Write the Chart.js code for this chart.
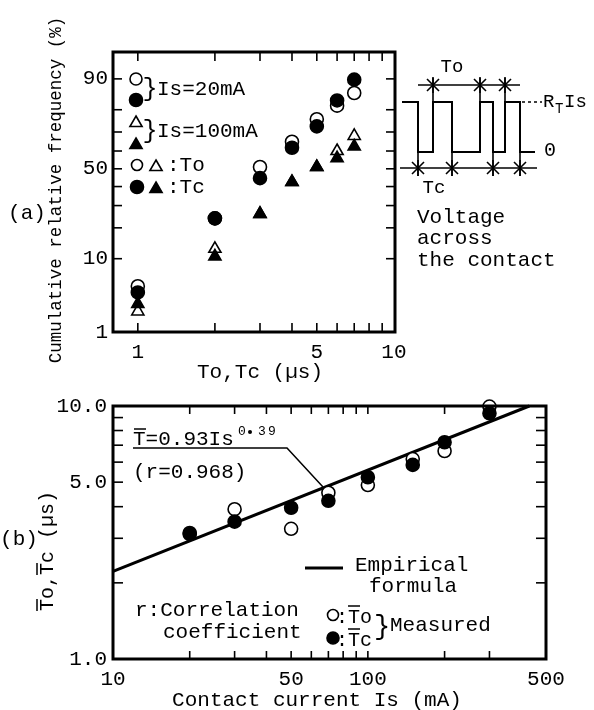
<!DOCTYPE html>
<html><head><meta charset="utf-8">
<script src="https://cdn.jsdelivr.net/npm/chart.js@4.4.1/dist/chart.umd.min.js"></script>
<style>
html,body{margin:0;padding:0;background:#fff;width:594px;height:710px;overflow:hidden}
#ca{position:absolute;left:0;top:0}
#cb{position:absolute;left:0;top:385px}
</style></head><body>
<canvas id="ca" width="594" height="385"></canvas>
<canvas id="cb" width="594" height="325"></canvas>
<script>
// ---------- (a) cumulative relative frequency ----------
const timeUs = [1, 2, 3, 4, 5, 6, 7];
const to20mA = [4.7, 24, 51, 65, 76, 81.6, 86];
const tc20mA = [3.9, 24, 44.7, 61.8, 72.7, 83.5, 89.8];
const to100mA = [2.1, 12.7, 26, 42.5, 51, 60, 68];
const tc100mA = [2.7, 10.6, 26, 42.5, 51, 56, 62.5];
const freqTickLabels = [1, 10, 50, 90];
const freqMinorTicks = [10, 20, 30, 40, 50, 60, 70, 80, 90];
const timeTickLabels = [1, 5, 10];
const timeMinorTicks = [1, 2, 3, 4, 5, 6, 7, 8, 9];
// ---------- (b) mean times vs contact current ----------
const currentMA = [20, 30, 50, 70, 100, 150, 200, 300];
const toMean = [3.15, 3.91, 3.27, 4.54, 4.87, 6.17, 6.64, 9.95];
const tcMean = [3.12, 3.49, 3.96, 4.22, 5.23, 5.85, 7.19, 9.36];
const formulaIs = [10, 430];
const formulaT = [2.22, 10.0];
const currentTickLabels = [10, 50, 100, 500];
const currentMinorTicks = [20, 30, 40, 50, 60, 70, 80, 90, 100, 200, 300];
const meanTickLabels = [1, 5, 10];
const meanMinorTicks = [2, 3, 4, 5, 6, 7, 8, 9];

const FONT = '"Liberation Mono", "Courier New", monospace';
Chart.defaults.font.family = FONT;
Chart.defaults.color = '#000';

// inverse normal CDF (probability-paper axis)
function probit(p){
  const a=[-3.969683028665376e+01,2.209460984245205e+02,-2.759285104469687e+02,1.383577518672690e+02,-3.066479806614716e+01,2.506628277459239e+00];
  const b=[-5.447609879822406e+01,1.615858368580409e+02,-1.556989798598866e+02,6.680131188771972e+01,-1.328068155288572e+01];
  const c=[-7.784894002430293e-03,-3.223964580411365e-01,-2.400758277161838e+00,-2.549732539343734e+00,4.374664141464968e+00,2.938163982698783e+00];
  const d=[7.784695709041462e-03,3.224671290700398e-01,2.445134137142996e+00,3.754408661907416e+00];
  const pl=0.02425, ph=1-pl; let q,r;
  if(p<pl){q=Math.sqrt(-2*Math.log(p));return (((((c[0]*q+c[1])*q+c[2])*q+c[3])*q+c[4])*q+c[5])/((((d[0]*q+d[1])*q+d[2])*q+d[3])*q+1);}
  if(p<=ph){q=p-0.5;r=q*q;return (((((a[0]*r+a[1])*r+a[2])*r+a[3])*r+a[4])*r+a[5])*q/(((((b[0]*r+b[1])*r+b[2])*r+b[3])*r+b[4])*r+1);}
  q=Math.sqrt(-2*Math.log(1-p));return -(((((c[0]*q+c[1])*q+c[2])*q+c[3])*q+c[4])*q+c[5])/((((d[0]*q+d[1])*q+d[2])*q+d[3])*q+1);
}
class ProbitScale extends Chart.LinearScale {
  buildTicks(){ return (this.options.ticks.values || []).map(v => ({value: v})); }
  configure(){ super.configure(); this._z0 = probit(this.min/100); this._z1 = probit(this.max/100); }
  getPixelForValue(v){ return this.getPixelForDecimal((probit(v/100) - this._z0)/(this._z1 - this._z0)); }
  getValueForPixel(px){ return this.min; }
}
ProbitScale.id = 'probit';
ProbitScale.defaults = {ticks: {callback: v => String(v)}};
Chart.register(ProbitScale);

function txt(ctx, s, x, y, size, align, base){
  ctx.font = size + 'px ' + FONT; ctx.fillStyle = '#000';
  ctx.textAlign = align || 'left'; ctx.textBaseline = base || 'middle';
  ctx.fillText(s, x, y);
}
function circ(ctx, x, y, r, filled){
  ctx.beginPath(); ctx.arc(x, y, r, 0, Math.PI*2);
  ctx.fillStyle = filled ? '#000' : '#fff'; ctx.fill();
  ctx.lineWidth = 1.6; ctx.strokeStyle = '#000'; ctx.stroke();
}
function tri(ctx, x, y, r, filled){
  ctx.beginPath();
  for (let k=0;k<3;k++){ const a = k*2*Math.PI/3; const px = x + Math.sin(a)*r, py = y - Math.cos(a)*r; k?ctx.lineTo(px,py):ctx.moveTo(px,py); }
  ctx.closePath();
  ctx.fillStyle = filled ? '#000' : '#fff'; ctx.fill();
  ctx.lineWidth = 1.6; ctx.strokeStyle = '#000'; ctx.stroke();
}
function line(ctx, pts, w, dash){
  ctx.beginPath(); ctx.setLineDash(dash || []);
  pts.forEach((p,i)=> i?ctx.lineTo(p[0],p[1]):ctx.moveTo(p[0],p[1]));
  ctx.lineWidth = w; ctx.strokeStyle = '#000'; ctx.stroke(); ctx.setLineDash([]);
}
function star(ctx, x, y){
  const s = 6;
  line(ctx, [[x-s,y-s],[x+s,y+s]], 1.6);
  line(ctx, [[x-s,y+s],[x+s,y-s]], 1.6);
  line(ctx, [[x,y-s-2],[x,y+s+2]], 1.6);
}
function frameAndTicks(chart, xTicks, yTicks, xLen, yLen){
  const ctx = chart.ctx, a = chart.chartArea, xs = chart.scales.x, ys = chart.scales.y;
  ctx.save();
  xTicks.forEach(v => { const px = xs.getPixelForValue(v);
    line(ctx, [[px,a.bottom],[px,a.bottom-xLen]], 1.6); line(ctx, [[px,a.top],[px,a.top+xLen]], 1.6); });
  yTicks.forEach(v => { const py = ys.getPixelForValue(v);
    line(ctx, [[a.left,py],[a.left+yLen,py]], 1.6); line(ctx, [[a.right,py],[a.right-yLen,py]], 1.6); });
  ctx.lineWidth = 3; ctx.strokeStyle = '#000';
  ctx.strokeRect(a.left, a.top, a.right-a.left, a.bottom-a.top);
  ctx.restore();
}
function rotText(ctx, s, x, y, size){
  ctx.save(); ctx.translate(x, y); ctx.rotate(-Math.PI/2);
  txt(ctx, s, 0, 0, size, 'center', 'middle'); ctx.restore();
}

const pts = (xs, ys) => xs.map((x,i) => ({x, y: ys[i]}));
const ds = (data, style, filled, order, r) => ({
  data, pointStyle: style, pointRadius: r, pointHoverRadius: r, pointBorderWidth: 1.6,
  backgroundColor: filled ? '#000' : '#fff', borderColor: '#000', showLine: false, clip: false, order
});

// ---------------- chart (a) ----------------
const plugA = { id: 'decoA', afterDraw(chart){
  const ctx = chart.ctx;
  frameAndTicks(chart, timeMinorTicks, freqMinorTicks, 9, 9);
  ctx.save();
  // titles
  rotText(ctx, 'Cumulative relative frequency (%)', 56, 190, 17.5);
  txt(ctx, 'To,Tc (µs)', 260, 372, 21, 'center');
  txt(ctx, '(a)', 27, 213, 21, 'center');
  // legend
  circ(ctx, 136, 79, 6, false); circ(ctx, 136, 100, 6.5, true);
  txt(ctx, '}', 150, 89, 25, 'center'); txt(ctx, 'Is=20mA', 157, 89, 21);
  tri(ctx, 136, 123, 7, false); tri(ctx, 136, 145, 7, true);
  txt(ctx, '}', 150, 131, 25, 'center'); txt(ctx, 'Is=100mA', 157, 131, 21);
  circ(ctx, 137, 165, 5.5, false); tri(ctx, 156, 167, 7, false); txt(ctx, ':To', 167, 165, 21);
  circ(ctx, 137, 187, 6.5, true); tri(ctx, 156, 189, 7, true); txt(ctx, ':Tc', 167, 187, 21);
  // inset: voltage across the contact
  const hi = 102, lo = 152;
  line(ctx, [[402,hi],[418,hi],[418,lo],[433,lo],[433,hi],[452,hi],[452,lo],[480,lo],[480,hi],[493,hi],[493,lo],[505,lo],[505,hi],[520,hi],[520,lo],[535,lo]], 2);
  line(ctx, [[418,85],[520,85]], 1.6);
  [433,480,505].forEach(x => { line(ctx, [[x,78],[x,hi]], 1.6); star(ctx, x, 85); });
  line(ctx, [[400,168],[537,168]], 1.6);
  [418,452,493,520].forEach(x => { line(ctx, [[x,lo],[x,176]], 1.6); star(ctx, x, 168); });
  line(ctx, [[522,hi],[542,hi]], 1.5, [3,3]);
  txt(ctx, 'R', 543, hi, 19); txt(ctx, 'T', 555, hi+7, 14); txt(ctx, 'Is', 564, hi, 19);
  txt(ctx, '0', 550, 151, 20, 'center');
  txt(ctx, 'To', 452, 67, 19, 'center');
  txt(ctx, 'Tc', 434, 188, 19, 'center');
  txt(ctx, 'Voltage', 417, 217, 21);
  txt(ctx, 'across', 417, 238, 21);
  txt(ctx, 'the contact', 417, 260, 21);
  ctx.restore();
}};

new Chart(document.getElementById('ca'), {
  type: 'scatter',
  data: { datasets: [
    ds(pts(timeUs, tc20mA), 'circle', true, 0, 6.5),
    ds(pts(timeUs, tc100mA), 'triangle', true, 1, 7),
    ds(pts(timeUs, to20mA), 'circle', false, 2, 6.5),
    ds(pts(timeUs, to100mA), 'triangle', false, 3, 7)
  ]},
  options: {
    responsive: false, animation: false, devicePixelRatio: 1,
    layout: { padding: { left: 0, right: 199, top: 52, bottom: 0 } },
    plugins: { legend: { display: false }, tooltip: { enabled: false } },
    scales: {
      x: { type: 'logarithmic', min: 0.8, max: 10.1,
        grid: { display: false, drawTicks: false }, border: { display: false },
        ticks: { autoSkip: false, maxRotation: 0, padding: 8, font: { size: 21 }, color: '#000', callback: v => String(v) },
        afterBuildTicks: s => { s.ticks = timeTickLabels.map(v => ({value: v})); },
        afterFit: s => { s.height = 385 - 332; } },
      y: { type: 'probit', min: 1, max: 95.2,
        grid: { display: false, drawTicks: false }, border: { display: false },
        ticks: { values: freqTickLabels, autoSkip: false, padding: 5, font: { size: 21 }, color: '#000', callback: v => String(v) },
        afterFit: s => { s.width = 113; } }
    }
  },
  plugins: [plugA]
});

// ---------------- chart (b) ----------------
const plugB = { id: 'decoB', afterDraw(chart){
  const ctx = chart.ctx;
  frameAndTicks(chart, currentMinorTicks, meanMinorTicks, 8, 10);
  ctx.save(); ctx.translate(0, -385);
  // y title with overlines
  ctx.save(); ctx.translate(46, 551); ctx.rotate(-Math.PI/2);
  ctx.font = '20px ' + FONT;
  const yt = 'To,Tc (µs)'; const w = ctx.measureText(yt).width; const cw = ctx.measureText('T').width;
  txt(ctx, yt, -w/2, 7, 20, 'left', 'alphabetic');
  line(ctx, [[-w/2, -9],[-w/2+cw, -9]], 1.5);
  line(ctx, [[-w/2+3*cw, -9],[-w/2+4*cw, -9]], 1.5);
  ctx.restore();
  txt(ctx, '(b)', 19, 539, 21, 'center');
  txt(ctx, 'Contact current Is (mA)', 317, 700, 21, 'center');
  // formula annotation
  txt(ctx, 'T=0.93Is', 133, 445, 21, 'left', 'alphabetic');
  line(ctx, [[134,429],[146,429]], 1.5);
  txt(ctx, '0', 238, 432, 13); ctx.beginPath(); ctx.arc(250, 432, 2, 0, 2*Math.PI); ctx.fillStyle='#000'; ctx.fill();
  txt(ctx, '3', 258, 432, 13); txt(ctx, '9', 268, 432, 13);
  line(ctx, [[133,448],[287,448],[323,487]], 1.5);
  txt(ctx, '(r=0.968)', 133, 472, 21);
  // legend
  line(ctx, [[305,568],[343,568]], 3);
  txt(ctx, 'Empirical', 355, 565, 21);
  txt(ctx, 'formula', 369, 586, 21);
  txt(ctx, 'r:Correlation', 135, 610, 21);
  txt(ctx, 'coefficient', 163, 632, 21);
  circ(ctx, 333, 615, 5.5, false); circ(ctx, 333, 638, 6, true);
  ctx.font = '20px ' + FONT; const cw2 = ctx.measureText('T').width;
  txt(ctx, ':To', 336, 618, 20); line(ctx, [[336+cw2,606],[336+2*cw2,606]], 1.5);
  txt(ctx, ':Tc', 336, 641, 20); line(ctx, [[336+cw2,629],[336+2*cw2,629]], 1.5);
  txt(ctx, '}', 382, 627, 27, 'center');
  txt(ctx, 'Measured', 390, 625, 21);
  ctx.restore();
}};

new Chart(document.getElementById('cb'), {
  type: 'scatter',
  data: { datasets: [
    ds(pts(currentMA, tcMean), 'circle', true, 0, 6.5),
    ds(pts(currentMA, toMean), 'circle', false, 1, 6.5),
    { data: pts(formulaIs, formulaT), showLine: true, borderColor: '#000', borderWidth: 3,
      pointRadius: 0, pointHoverRadius: 0, clip: false, order: 2 }
  ]},
  options: {
    responsive: false, animation: false, devicePixelRatio: 1,
    layout: { padding: { left: 0, right: 48, top: 21, bottom: 0 } },
    plugins: { legend: { display: false }, tooltip: { enabled: false } },
    scales: {
      x: { type: 'logarithmic', min: 10, max: 500,
        grid: { display: false, drawTicks: false }, border: { display: false },
        ticks: { autoSkip: false, maxRotation: 0, padding: 8, font: { size: 21 }, color: '#000', callback: v => String(v) },
        afterBuildTicks: s => { s.ticks = currentTickLabels.map(v => ({value: v})); },
        afterFit: s => { s.height = 325 - 274; } },
      y: { type: 'logarithmic', min: 1, max: 10,
        grid: { display: false, drawTicks: false }, border: { display: false },
        ticks: { autoSkip: false, padding: 6, font: { size: 21 }, color: '#000', callback: v => Number(v).toFixed(1) },
        afterBuildTicks: s => { s.ticks = meanTickLabels.map(v => ({value: v})); },
        afterFit: s => { s.width = 113; } }
    }
  },
  plugins: [plugB]
});
</script>
</body></html>
